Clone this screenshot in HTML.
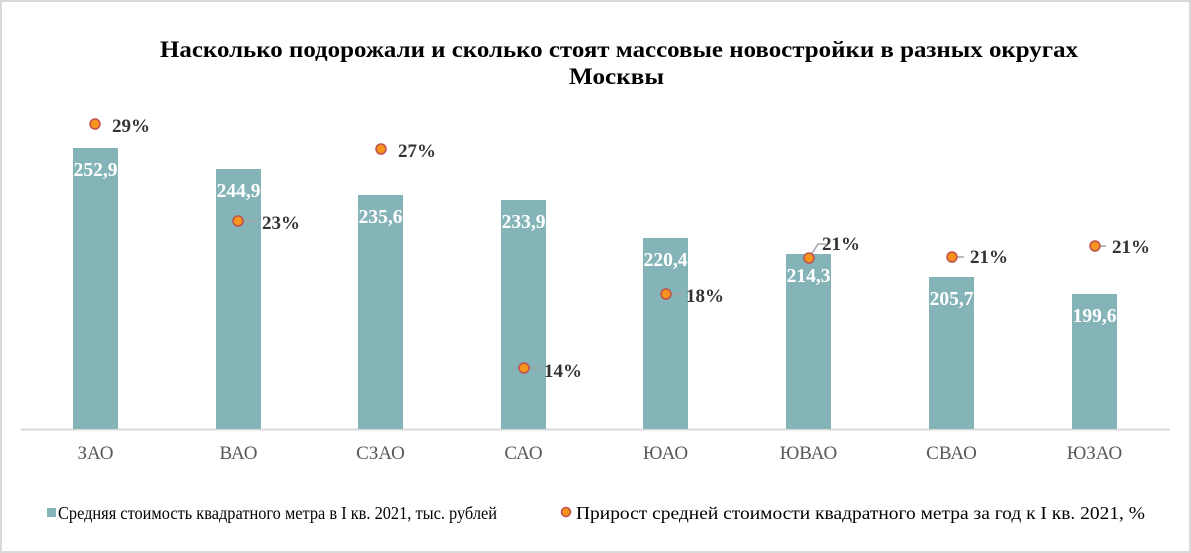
<!DOCTYPE html>
<html><head><meta charset="utf-8"><style>
body{margin:0;background:#fff}
svg{display:block;font-family:"Liberation Serif",serif}
</style></head><body>
<svg width="1191" height="553" viewBox="0 0 1191 553">
<rect x="1" y="1" width="1189" height="551" fill="#fff" stroke="#d9d9d9" stroke-width="2"/>
<g font-weight="bold" font-size="23" fill="#000">
<text x="160" y="57" textLength="918" lengthAdjust="spacingAndGlyphs">Насколько подорожали и сколько стоят массовые новостройки  в разных округах</text>
<text x="569" y="84" textLength="95" lengthAdjust="spacingAndGlyphs">Москвы</text>
</g>
<line x1="21" y1="429.5" x2="1170" y2="429.5" stroke="#d9d9d9" stroke-width="2"/>
<g fill="#84b4b8">
<rect x="73" y="148" width="45" height="281"/>
<rect x="216" y="169" width="45" height="260"/>
<rect x="358" y="195" width="45" height="234"/>
<rect x="501" y="200" width="45" height="229"/>
<rect x="643" y="238" width="45" height="191"/>
<rect x="786" y="254" width="45" height="175"/>
<rect x="929" y="277" width="45" height="152"/>
<rect x="1072" y="294" width="45" height="135"/>
</g>
<g fill="#fff" font-weight="bold" font-size="19.5" text-anchor="middle">
<text x="95.5" y="176">252,9</text>
<text x="238.5" y="197">244,9</text>
<text x="380.5" y="223">235,6</text>
<text x="523.5" y="228">233,9</text>
<text x="665.5" y="266">220,4</text>
<text x="808.5" y="282">214,3</text>
<text x="951.5" y="305">205,7</text>
<text x="1094.5" y="322">199,6</text>
</g>
<g stroke="#a6a6a6" stroke-width="1.5" fill="none">
<line x1="238" y1="221" x2="258" y2="221"/>
<line x1="524" y1="368" x2="540" y2="368"/>
<line x1="666" y1="294" x2="682" y2="294"/>
<polyline points="809,258 818,244 826,244"/>
<line x1="952" y1="257" x2="964" y2="257"/>
<line x1="1095" y1="246" x2="1106" y2="246"/>
</g>
<g fill="#f7941d" stroke="#c0504d" stroke-width="1.5">
<circle cx="95" cy="124" r="5"/>
<circle cx="238" cy="221" r="5"/>
<circle cx="381" cy="149" r="5"/>
<circle cx="524" cy="368" r="5"/>
<circle cx="666" cy="294" r="5"/>
<circle cx="809" cy="258" r="5"/>
<circle cx="952" cy="257" r="5"/>
<circle cx="1095" cy="246" r="5"/>
</g>
<g fill="#333" font-weight="bold" font-size="19">
<text x="112" y="132">29%</text>
<text x="262" y="229">23%</text>
<text x="398" y="157">27%</text>
<text x="544" y="377">14%</text>
<text x="686" y="302">18%</text>
<text x="822" y="250">21%</text>
<text x="970" y="263">21%</text>
<text x="1112" y="253">21%</text>
</g>
<g fill="#595959" font-size="19" text-anchor="middle">
<text x="95.5" y="459">ЗАО</text>
<text x="238.5" y="459">ВАО</text>
<text x="380.5" y="459">СЗАО</text>
<text x="523.5" y="459">САО</text>
<text x="665.5" y="459">ЮАО</text>
<text x="808.5" y="459">ЮВАО</text>
<text x="951.5" y="459">СВАО</text>
<text x="1094.5" y="459">ЮЗАО</text>
</g>
<rect x="47" y="508" width="9" height="9" fill="#84b4b8"/>
<circle cx="566" cy="512" r="4.5" fill="#f7941d" stroke="#c0504d" stroke-width="1.5"/>
<g fill="#000" font-size="17.5">
<text x="58" y="519" textLength="439" lengthAdjust="spacingAndGlyphs">Средняя стоимость квадратного метра в I кв. 2021,  тыс. рублей</text>
<text x="576" y="519" textLength="569" lengthAdjust="spacingAndGlyphs">Прирост средней стоимости квадратного метра за год к I кв. 2021, %</text>
</g>
</svg>
</body></html>
